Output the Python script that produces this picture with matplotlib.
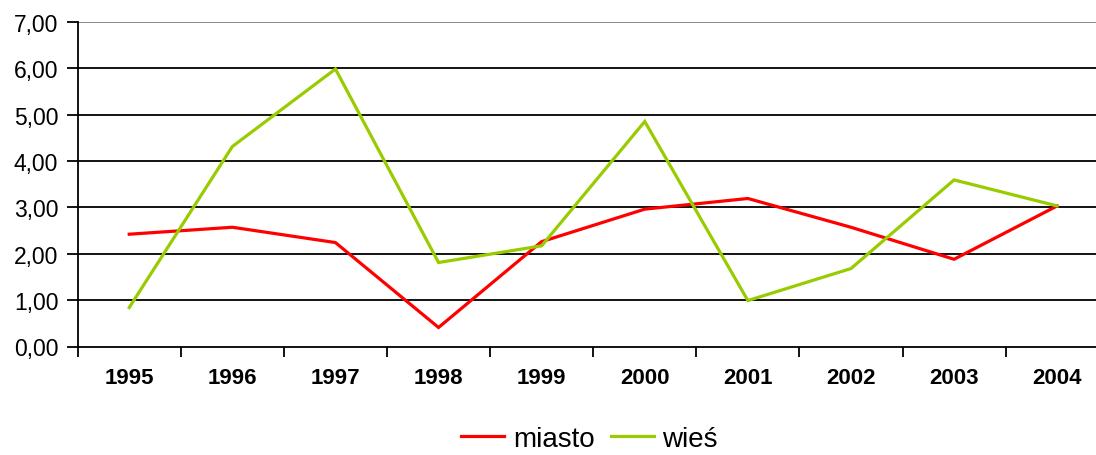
import numpy as np
import matplotlib
matplotlib.use("Agg")
import matplotlib.pyplot as plt

plt.rcParams['font.family'] = ['Liberation Sans', 'DejaVu Sans']

lata = ["1995", "1996", "1997", "1998", "1999", "2000", "2001", "2002", "2003", "2004"]
miasto = [2.42, 2.57, 2.24, 0.41, 2.26, 2.96, 3.19, 2.57, 1.88, 3.03]
wies = [0.84, 4.31, 5.98, 1.81, 2.17, 4.85, 0.99, 1.68, 3.59, 3.03]

fig = plt.figure(figsize=(10.96, 4.56), dpi=100)
# plot area is wider than the picture on the right (cropped in the reference)
ax = fig.add_axes([77.7 / 1096, 108.5 / 456, 1031 / 1096, 324.8 / 456])

x = np.arange(len(lata))
ax.plot(x, miasto, color="#FF0000", lw=2.3, label="miasto", solid_joinstyle="miter")
ax.plot(x, wies, color="#99CC00", lw=2.3, label="wieś", solid_joinstyle="miter")

ax.set_xlim(-0.5, len(lata) - 0.5)
ax.set_ylim(0, 7)

# gridlines
for v in range(1, 8):
    ax.axhline(v, color="black" if v < 7 else "#808080", lw=1.3, zorder=0)

ax.set_yticks(range(0, 8))
ax.set_yticklabels([f"{v},00" for v in range(0, 8)], fontsize=16.5)
ax.tick_params(axis="y", length=8, width=1.3, direction="out", pad=6)

ax.set_xticks(np.arange(-0.5, len(lata)))
ax.set_xticklabels([])
ax.set_xticks(x, minor=True)
ax.set_xticklabels(lata, minor=True, fontsize=16, fontweight="bold")
ax.tick_params(axis="x", which="major", length=7, width=1.3, direction="out")
ax.tick_params(axis="x", which="minor", length=0, pad=15)

for s in ["top", "right"]:
    ax.spines[s].set_visible(False)
ax.spines["left"].set_linewidth(1.3)
ax.spines["bottom"].set_linewidth(1.3)

fig.legend(loc="center", bbox_to_anchor=(0.538, 0.035), ncol=2, frameon=False,
           fontsize=20, handlelength=1.55, handletextpad=0.3, columnspacing=0.6,
           borderpad=0.2)

fig.savefig("out.png", dpi=100)
